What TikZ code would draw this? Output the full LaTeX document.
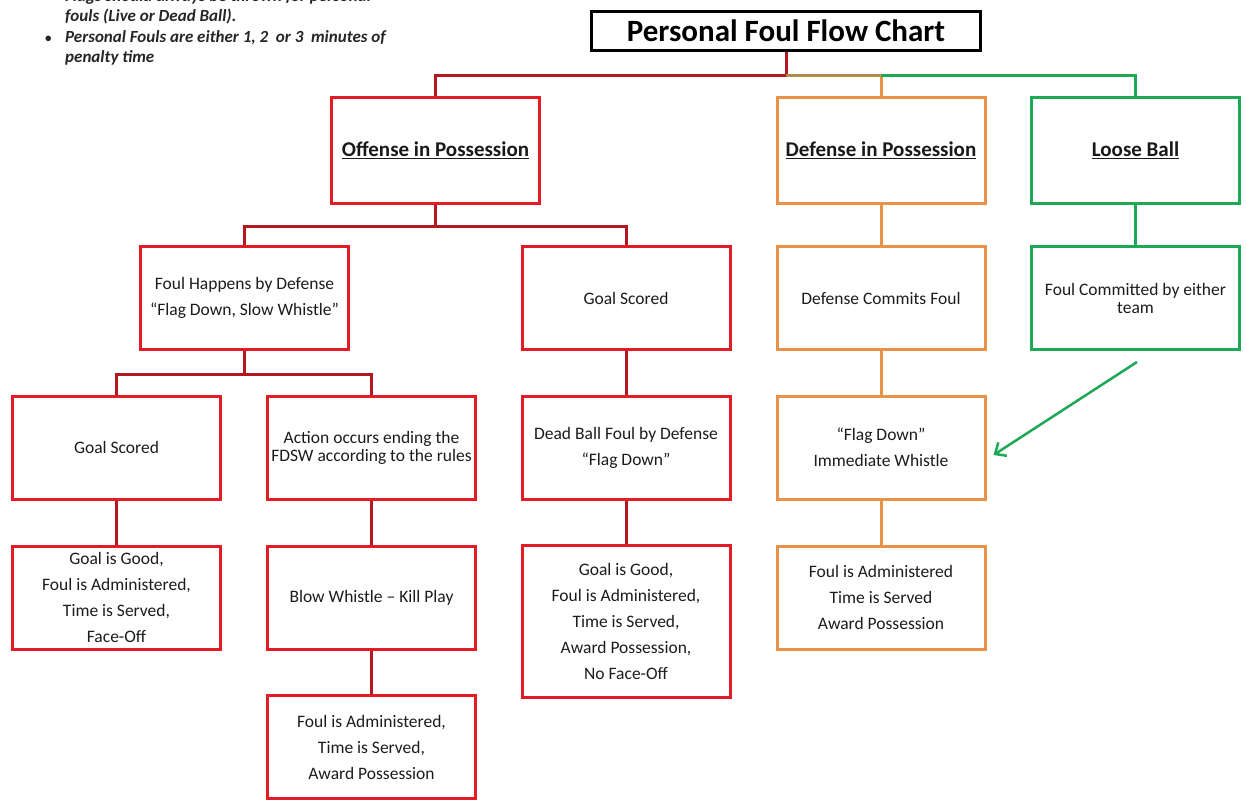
\documentclass[tikz,border=0pt]{standalone}
\usepackage{fontspec}
\setmainfont{Carlito}
\usetikzlibrary{arrows.meta,calc}
\definecolor{boxred}{RGB}{228,26,36}
\definecolor{connred}{RGB}{178,24,30}
\definecolor{boxorange}{RGB}{232,145,72}
\definecolor{boxgreen}{RGB}{30,168,85}
\definecolor{oliveconn}{RGB}{176,140,72}
\definecolor{txt}{RGB}{28,28,28}
\tikzset{
  box/.style={draw, line width=3pt, minimum width=208pt, minimum height=103pt, inner sep=2pt, align=center, text=txt, font=\fontsize{17.5}{26}\selectfont},
  tightbox/.style={font=\fontsize{17.5}{18}\selectfont},
  redbox/.style={box, draw=boxred},
  orbox/.style={box, draw=boxorange},
  grbox/.style={box, draw=boxgreen},
  headbox/.style={minimum height=106pt, font=\fontsize{21}{24}\bfseries\selectfont, text=black!90},
  rconn/.style={draw=connred, line width=3pt},
  oconn/.style={draw=boxorange, line width=3pt},
  olconn/.style={draw=oliveconn, line width=3pt},
  gconn/.style={draw=boxgreen, line width=3pt},
  garrow/.style={draw=boxgreen, line width=2.5pt, -{Straight Barb[length=9pt,width=16pt,line width=2.5pt]}},
  note/.style={anchor=base west, inner sep=0pt, font=\fontsize{17}{20}\bfseries\itshape\selectfont, text=black!85},
  bul/.style={anchor=base west, inner sep=0pt, font=\fontsize{13}{14}\bfseries\selectfont, text=black!85}
}
\begin{document}
\begin{tikzpicture}[x=1pt,y=-1pt]
\useasboundingbox (0,0) rectangle (1246,802);
\clip (0,0) rectangle (1246,802);
\fill[white] (0,0) rectangle (1246,802);

% notes
\node[bul] (b1) at (45,1.5) {•};
\node[note] (n1) at (65,1.5) {Flags should always be thrown for personal};
\node[note] (n2) at (65,22) {fouls (Live or Dead Ball).};
\node[bul] (b2) at (45,42.5) {•};
\node[note] (n3) at (65,42.5) {Personal Fouls are either 1, 2\ \ or 3\ \ minutes of};
\node[note] (n4) at (65,63) {penalty time};

% title
\node[draw=black, line width=3pt, minimum width=389pt, minimum height=39pt, inner sep=0pt, font=\fontsize{31}{34}\bfseries\selectfont] (title) at (786,31) {Personal Foul Flow Chart};

% row 1
\node[redbox, headbox] (off) at (435.5,150.5) {\underline{Offense in Possession}};
\node[orbox, headbox] (dip) at (881,150.5) {\underline{Defense in Possession}};
\node[grbox, headbox] (lb) at (1135.5,150.5) {\underline{Loose Ball}};

% row 2
\node[redbox] (fh) at (244.5,298) {Foul Happens by Defense\\``Flag Down, Slow Whistle''};
\node[redbox] (gs1) at (626,298) {Goal Scored};
\node[orbox] (dcf) at (881,298) {Defense Commits Foul};
\node[grbox, tightbox] (fce) at (1135.5,298) {Foul Committed by either\\team};

% row 3
\node[redbox] (gs2) at (116.5,447.5) {Goal Scored};
\node[redbox, tightbox] (act) at (371.5,447.5) {Action occurs ending the\\FDSW according to the rules};
\node[redbox] (dbf) at (626,447.5) {Dead Ball Foul by Defense\\``Flag Down''};
\node[orbox] (fd) at (881,447.5) {``Flag Down''\\Immediate Whistle};

% row 4
\node[redbox] (gg1) at (116.5,597.5) {Goal is Good,\\Foul is Administered,\\Time is Served,\\Face-Off};
\node[redbox] (bw) at (371.5,597.5) {Blow Whistle -- Kill Play};
\node[redbox, minimum height=152pt] (gg2) at (626,621.5) {Goal is Good,\\Foul is Administered,\\Time is Served,\\Award Possession,\\No Face-Off};
\node[orbox] (fa) at (881,597.5) {Foul is Administered\\Time is Served\\Award Possession};

% row 5
\node[redbox] (fa2) at (371.5,747) {Foul is Administered,\\Time is Served,\\Award Possession};

% top connectors
\draw[rconn] (title.south) -- ++(0,23.5) coordinate (hub) -| (off.north);
\draw[olconn] (hub) -- (hub -| dip.north) coordinate (ohub);
\draw[oconn] (ohub) -- (dip.north);
\draw[gconn] (ohub) -| (lb.north);

% offense tree
\draw[rconn] (off.south) -- ++(0,21.5) coordinate (b1h) -| (fh.north);
\draw[rconn] (b1h) -| (gs1.north);
\draw[rconn] (fh.south) -- ++(0,23) coordinate (b2h) -| (gs2.north);
\draw[rconn] (b2h) -| (act.north);
\draw[rconn] (gs1.south) -- (dbf.north);
\draw[rconn] (dbf.south) -- (gg2.north);
\draw[rconn] (gs2.south) -- (gg1.north);
\draw[rconn] (act.south) -- (bw.north);
\draw[rconn] (bw.south) -- (fa2.north);

% defense tree
\draw[oconn] (dip.south) -- (dcf.north);
\draw[oconn] (dcf.south) -- (fd.north);
\draw[oconn] (fd.south) -- (fa.north);

% loose ball
\draw[gconn] (lb.south) -- (fce.north);
\coordinate (gstart) at (1137,362);
\draw[garrow] (gstart) -- ($(fd.east)+(7,7.5)$);
\end{tikzpicture}
\end{document}
